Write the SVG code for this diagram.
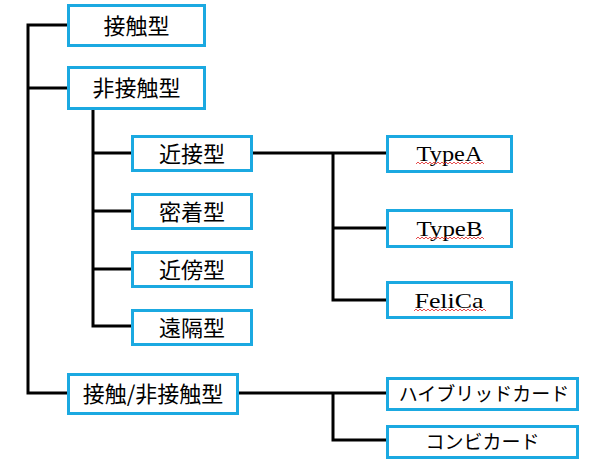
<svg xmlns="http://www.w3.org/2000/svg" width="591" height="466" viewBox="0 0 591 466">
<style>
.box{fill:#fff;stroke:#1BA9E1;stroke-width:3}
.jp{font-family:"Noto Sans CJK JP","Noto Sans",sans-serif;font-size:22px;fill:#000;text-anchor:middle}
.jps{font-family:"Noto Sans CJK JP","Noto Sans",sans-serif;font-size:19px;fill:#000;text-anchor:middle}
.en{font-family:"Liberation Serif","DejaVu Serif",serif;font-size:22px;fill:#000;text-anchor:middle}
.ln{fill:none;stroke:#000;stroke-width:3;stroke-linejoin:miter}
.sq{fill:none;stroke:#E02020;stroke-width:0.8}
</style>
<g id="connectors">
<polyline class="ln" points="67,25 28,25 28,393 67,393"/>
<line class="ln" x1="28" y1="88" x2="67" y2="88"/>
<polyline class="ln" points="93,110 93,326 131,326"/>
<line class="ln" x1="93" y1="153" x2="131" y2="153"/>
<line class="ln" x1="93" y1="211" x2="131" y2="211"/>
<line class="ln" x1="93" y1="269" x2="131" y2="269"/>
<line class="ln" x1="253" y1="153" x2="386" y2="153"/>
<polyline class="ln" points="333,153 333,300 386,300"/>
<line class="ln" x1="333" y1="228" x2="386" y2="228"/>
<line class="ln" x1="239" y1="393" x2="386" y2="393"/>
<polyline class="ln" points="333,393 333,440 386,440"/>
</g>
<g id="n1"><rect class="box" x="68.5" y="5.5" width="136" height="40"/><text class="jp" x="136.5" y="33.5">接触型</text></g>
<g id="n2"><rect class="box" x="68.5" y="67.5" width="136" height="41"/><text class="jp" x="136.5" y="96">非接触型</text></g>
<g id="n3"><rect class="box" x="132.5" y="136.5" width="119" height="34"/><text class="jp" x="192" y="161.5">近接型</text></g>
<g id="n4"><rect class="box" x="132.5" y="194.5" width="119" height="34"/><text class="jp" x="192" y="219.5">密着型</text></g>
<g id="n5"><rect class="box" x="132.5" y="252.5" width="119" height="34"/><text class="jp" x="192" y="277.5">近傍型</text></g>
<g id="n6"><rect class="box" x="132.5" y="310.5" width="119" height="34"/><text class="jp" x="192" y="335.5">遠隔型</text></g>
<g id="n7"><rect class="box" x="387.5" y="136.5" width="124" height="35"/><text class="en" x="449.5" y="161" textLength="66" lengthAdjust="spacingAndGlyphs">TypeA</text>
<polyline class="sq" points="416,164 418,162 420,164 422,162 424,164 426,162 428,164 430,162 432,164 434,162 436,164 438,162 440,164 442,162 444,164 446,162 448,164 450,162 452,164 454,162 456,164 458,162 460,164 462,162 464,164 466,162 468,164 470,162 472,164 474,162 476,164 478,162 480,164 482,162 484,164"/></g>
<g id="n8"><rect class="box" x="387.5" y="210.5" width="124" height="36"/><text class="en" x="449.5" y="236" textLength="66" lengthAdjust="spacingAndGlyphs">TypeB</text>
<polyline class="sq" points="416,239 418,237 420,239 422,237 424,239 426,237 428,239 430,237 432,239 434,237 436,239 438,237 440,239 442,237 444,239 446,237 448,239 450,237 452,239 454,237 456,239 458,237 460,239 462,237 464,239 466,237 468,239 470,237 472,239 474,237 476,239 478,237 480,239 482,237 484,239"/></g>
<g id="n9"><rect class="box" x="387.5" y="282.5" width="124" height="35"/><text class="en" x="449" y="308" textLength="69" lengthAdjust="spacingAndGlyphs">FeliCa</text>
<polyline class="sq" points="414,311 416,309 418,311 420,309 422,311 424,309 426,311 428,309 430,311 432,309 434,311 436,309 438,311 440,309 442,311 444,309 446,311 448,309 450,311 452,309 454,311 456,309 458,311 460,309 462,311 464,309 466,311 468,309 470,311 472,309 474,311 476,309 478,311 480,309 482,311 484,309 486,311"/></g>
<g id="n10"><rect class="box" x="68.5" y="374.5" width="169" height="39"/><text class="jp" x="153" y="402">接触/非接触型</text></g>
<g id="n11"><rect class="box" x="387.5" y="378.5" width="190" height="31"/><text class="jps" x="484" y="401">ハイブリッドカード</text></g>
<g id="n12"><rect class="box" x="387.5" y="426.5" width="190" height="31"/><text class="jps" x="482.5" y="449">コンビカード</text></g>
</svg>
